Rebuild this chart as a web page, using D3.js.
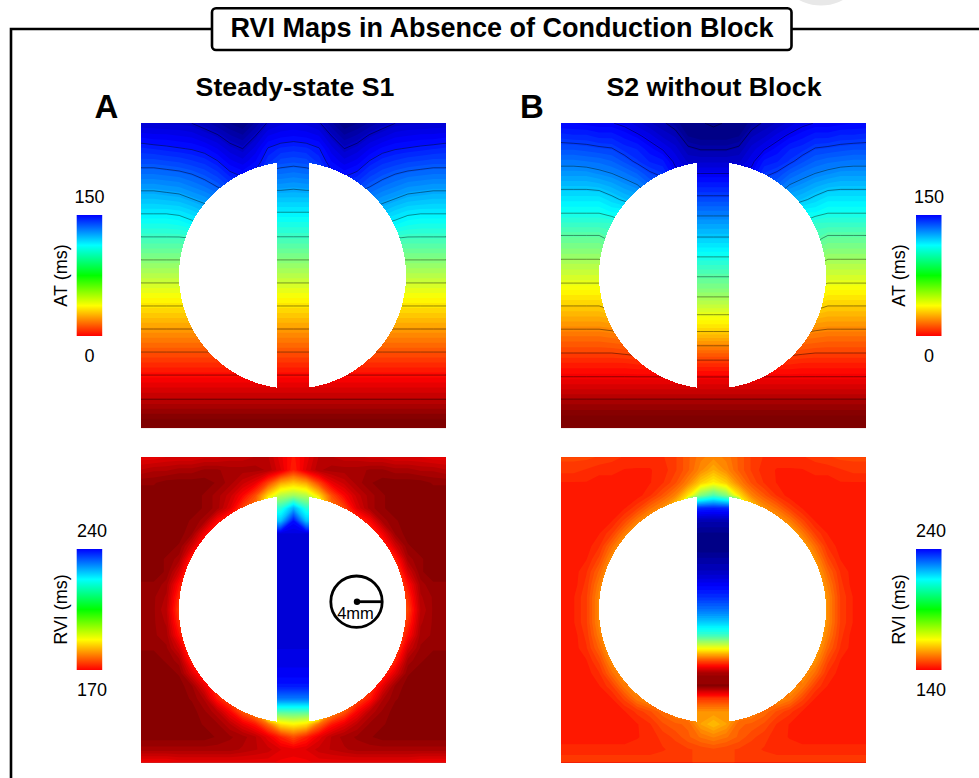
<!DOCTYPE html>
<html>
<head>
<meta charset="utf-8">
<script src="https://cdn.jsdelivr.net/npm/d3@7"></script>
<style>
    html, body { margin: 0; padding: 0; background: #fff; }
    svg { display: block; }
    text { font-family: "Liberation Sans", Arial, sans-serif; fill: #000; }
</style>
</head>
<body>
<svg id="chart" width="979" height="778"></svg>
<script>
// jet map: colour stop position (0 = dark blue end) and its colour
const jetStops = [0, 0.125, 0.375, 0.625, 0.875, 1];
const jetColors = ['#00007f', '#0000ff', '#00ffff', '#ffff00', '#ff0000', '#7f0000'];

// the colour bars use a plain rainbow, low end first
const barColors = ['#ff0000', '#ffff00', '#00ff00', '#00ffff', '#0000ff'];

const atTicks = [0, 150];
const rviTicksA = [170, 240];
const rviTicksB = [140, 240];

// isochrone levels (ms) of the two AT maps
const isoLevelsA = [-13, 1.5, 16, 30.5, 45, 59.5, 74, 88.5, 103, 117.5, 132, 146.5, 161];
const isoLevelsB = [-15.6, -1.6, 12.4, 26.4, 40.4, 54.4, 68.4, 82.4, 96.4, 110.4, 124.4, 138.4, 152.4, 166.4, 180.4];

// maps are left/right symmetric: rows top to bottom, columns left edge to centre (ms)
const atHalfA = [
    [159,159,160,160,161,164,168,172,175,168,160,157,156],
    [151,152,152,153,154,157,160,165,168,161,153,151,150],
    [143,144,145,146,147,149,153,158,161,155,146,143,142],
    [136,136,137,138,140,142,146,152,155,150,142,136,135],
    [128,128,129,130,132,135,139,145,148,145,128,128,127],
    [120,120,121,122,125,128,132,138,140,130,120,120,119],
    [112,112,113,114,117,120,124,125,118,115,111,111,111],
    [104,104,104,105,108,112,115,110,105,104,103,103,103],
    [96,96,96,97,100,102,100,97,96,96,95,95,95],
    [88,88,88,88,89,88,88,88,88,88,88,88,88],
    [80,80,80,80,80,80,80,80,80,80,80,80,80],
    [72,72,72,72,72,72,72,72,72,72,72,72,72],
    [64,64,64,64,64,64,64,64,64,64,64,64,64],
    [56,56,56,56,56,56,56,56,56,56,56,56,56],
    [48,48,48,48,48,48,48,48,48,48,48,48,48],
    [40,40,40,40,40,40,40,40,40,40,40,40,40],
    [32,32,32,32,32,32,32,32,32,32,32,32,32],
    [24,24,24,24,24,24,24,24,24,24,24,24,24],
    [16,16,16,16,16,16,16,16,16,16,16,16,16],
    [8,8,8,8,8,8,8,8,8,8,8,8,8],
    [0,0,0,0,0,0,0,0,0,0,0,0,0],
    [-8,-8,-8,-8,-8,-8,-8,-8,-8,-8,-8,-8,-8],
    [-15,-15,-15,-15,-15,-15,-15,-15,-15,-15,-15,-15,-15],
    [-23,-23,-23,-23,-23,-23,-23,-23,-23,-23,-23,-23,-23],
    [-31,-31,-31,-31,-31,-31,-31,-31,-31,-31,-31,-31,-31]
];

const atHalfB = [
    [150,150,151,152,152,154,158,162,165,170,176,179,183],
    [142,143,143,145,145,148,151,155,160,163,172,174,174],
    [135,135,136,137,138,142,144,149,153,158,165,167,167],
    [127,127,128,129,131,135,140,144,146,154,160,160,160],
    [120,120,120,122,124,127,131,137,140,150,152,152,152],
    [112,112,112,113,116,120,123,130,132,140,144,144,144],
    [104,104,104,104,108,112,115,120,125,130,136,136,136],
    [97,97,97,97,100,100,105,110,115,120,127,127,127],
    [89,89,89,89,89,95,100,105,110,115,118,118,118],
    [81,81,81,81,85,88,92,96,100,105,110,110,110],
    [74,74,74,74,78,82,86,90,94,98,101,101,101],
    [66,66,66,66,70,73,76,80,84,88,92,92,92],
    [59,59,59,59,62,65,68,72,76,80,83,83,83],
    [51,51,51,51,54,57,60,64,68,72,75,75,75],
    [43,43,43,43,46,48,50,53,57,61,65,65,65],
    [36,36,36,36,38,40,42,45,48,52,55,55,55],
    [28,28,28,28,29,31,33,36,39,42,45,45,45],
    [20,20,20,20,21,22,24,26,29,31,33,33,33],
    [13,13,13,13,13,14,15,16,18,19,20,20,20],
    [5,5,5,5,5,5,6,6,7,7,8,8,8],
    [-2,-2,-2,-2,-2,-2,-2,-2,-2,-2,-2,-2,-2],
    [-10,-10,-10,-10,-10,-10,-10,-10,-10,-10,-10,-10,-10],
    [-18,-18,-18,-18,-18,-18,-18,-18,-18,-18,-18,-18,-18],
    [-25,-25,-25,-25,-25,-25,-25,-25,-25,-25,-25,-25,-25],
    [-33,-33,-33,-33,-33,-33,-33,-33,-33,-33,-33,-33,-33]
];

const rviHalfA = [
    [168,168,167,167,167,166,166,165,165,164,164,168,172],
    [164,163,163,162,162,161,161,162,162,162,163,167,173],
    [160,160,159,159,159,159,160,162,165,168,176,185,188],
    [159,159,159,159,159,160,162,165,170,177,190,200,202],
    [159,159,159,159,159,160,162,167,176,182,212,213,224],
    [159,159,159,159,160,162,170,176,190,210,222,222,239],
    [159,159,159,159,161,169,176,185,200,225,243,243,243],
    [159,159,159,160,166,175,185,195,205,220,243,243,243],
    [159,159,160,162,173,180,190,200,210,225,244,244,244],
    [159,159,160,166,178,185,195,205,215,225,244,244,244],
    [160,160,162,171,180,190,200,210,220,230,244,244,244],
    [161,161,163,174,182,190,200,210,220,230,244,244,244],
    [161,161,164,176,184,190,200,210,220,230,244,244,244],
    [161,161,163,174,182,190,200,210,220,230,244,244,244],
    [160,161,162,171,180,190,200,210,220,230,244,244,244],
    [160,160,161,166,178,185,195,205,215,225,243,243,243],
    [159,159,160,162,173,180,190,200,210,225,242,242,242],
    [159,159,159,160,167,175,185,195,205,220,241,241,241],
    [159,159,159,159,161,168,176,185,200,220,238,238,238],
    [159,159,159,159,160,163,172,178,185,195,229,229,229],
    [159,159,159,159,159,161,164,170,178,185,210,210,210],
    [159,159,159,159,159,160,161,164,168,172,180,191,193],
    [159,159,159,159,159,159,160,161,162,164,168,173,177],
    [162,162,162,162,162,162,162,162,163,164,165,167,168],
    [169,169,169,168,168,168,168,168,168,168,168,169,169]
];

const rviHalfB = [
    [149,149,149,148,147,146,145,145,146,148,152,156,158],
    [147,147,146,145,145,144,144,144,145,148,152,158,163],
    [144,144,144,143,143,143,143,144,146,150,157,167,172],
    [143,143,143,143,143,143,143,146,151,157,170,190,197],
    [143,143,143,143,143,144,148,154,159,170,233,235,236],
    [143,143,143,143,144,149,156,162,170,190,248,250,250],
    [143,143,143,144,148,156,165,175,190,210,254,255,255],
    [143,143,143,146,154,163,172,185,200,220,256,257,257],
    [143,143,144,149,159,168,178,190,205,225,252,252,252],
    [143,143,146,153,163,170,180,195,210,225,248,248,248],
    [143,143,147,156,166,175,185,200,215,225,241,241,241],
    [143,144,148,158,168,175,185,195,205,220,234,234,234],
    [143,144,148,158,168,175,185,195,205,215,225,225,225],
    [143,144,148,158,168,175,185,195,205,210,213,213,213],
    [143,143,147,156,166,175,185,190,195,198,199,199,199],
    [143,143,146,153,163,170,172,174,175,175,175,175,175],
    [143,143,144,149,159,160,155,152,151,150,150,150,150],
    [143,143,143,146,154,160,150,140,132,128,128,128,128],
    [143,143,143,144,148,156,160,150,135,128,125,125,125],
    [143,143,143,143,144,149,156,160,155,150,147,147,147],
    [143,143,143,143,143,144,147,150,154,158,159,159,159],
    [143,143,143,143,143,143,144,146,150,152,153,161,165],
    [143,143,143,143,143,143,144,145,147,149,152,155,157],
    [145,145,145,145,145,145,145,145,146,147,148,149,150],
    [148,148,148,148,148,148,148,148,148,148,148,149,149]
];

const svg = d3.select('#chart');
const defs = svg.append('defs');
const panelSize = 305;
const holeRadius = 113.5;
const holeShift = -1;
const isthmusHalf = 16;
const bandCount = 64;

// legend ends sit on the red and blue stops of the jet map
function jetScale (ticks) {
    let [lo, hi] = ticks;
    let valueAt = t => lo + (0.875 - t) / 0.75 * (hi - lo);
    return d3.scaleLinear()
        .domain(jetStops.map(valueAt).reverse())
        .range(jetColors.slice().reverse())
        .clamp(true);
}

function drawMap (name, x, y, half, ticks, isoLevels) {
    let values = half.flatMap(row => row.concat(row.slice(0, -1).reverse()));
    let nx = half[0].length * 2 - 1;
    let ny = half.length;
    let color = jetScale(ticks);
    let [vMin, vMax] = d3.extent(color.domain());
    let step = (vMax - vMin) / bandCount;
    let thresholds = d3.range(bandCount).map(i => vMin + i * step);

    // grid samples sit at half-integers in d3.contours' space
    let xs = d3.scaleLinear().domain([0.5, nx - 0.5]).range([0, panelSize]);
    let ys = d3.scaleLinear().domain([0.5, ny - 0.5]).range([0, panelSize]);
    let path = d3.geoPath(d3.geoTransform({
        point (px, py) { this.stream.point(xs(px), ys(py)); }
    }));
    let contours = d3.contours().size([nx, ny]);

    defs.append('clipPath')
        .attr('id', `clip-${name}`)
        .append('rect')
            .attr('width', panelSize)
            .attr('height', panelSize);

    let g = svg.append('g')
        .attr('transform', `translate(${x}, ${y})`);
    let field = g.append('g')
        .attr('clip-path', `url(#clip-${name})`);

    field.append('rect')
        .attr('width', panelSize)
        .attr('height', panelSize)
        .style('fill', color(vMin));

    field.selectAll('.band')
        .data(contours.thresholds(thresholds)(values))
        .join('path')
            .attr('class', 'band')
            .attr('d', path)
            .style('fill', d => color(d.value + step / 2));

    if (isoLevels) {
        field.selectAll('.iso')
            .data(contours.thresholds(isoLevels)(values))
            .join('path')
                .attr('class', 'iso')
                .attr('d', path)
                .style('fill', 'none')
                .style('stroke', '#000')
                .style('stroke-opacity', 0.6)
                .style('stroke-width', 0.7);
    }

    // hole either side of the isthmus
    let cx = panelSize / 2 + holeShift;
    let cy = panelSize / 2 - 0.5;
    let h = Math.sqrt(holeRadius * holeRadius - isthmusHalf * isthmusHalf);
    let a = Math.atan2(h, isthmusHalf);
    let lobe = (side) => {
        let p = d3.path();
        p.moveTo(cx + side * isthmusHalf, cy - h);
        if (side < 0) p.arc(cx, cy, holeRadius, a - Math.PI, -a - Math.PI, true);
        else p.arc(cx, cy, holeRadius, -a, a, false);
        p.closePath();
        return p.toString();
    };
    g.selectAll('.lobe')
        .data([-1, 1])
        .join('path')
            .attr('class', 'lobe')
            .attr('d', lobe)
            .style('fill', '#fff')
            .style('shape-rendering', 'crispEdges');
    return g;
}

function drawLegend (name, x, y, ticks, label, labelX, textX) {
    let barW = 25.5;
    let barH = 121;
    let yScale = d3.scaleLinear().domain(ticks).range([y + barH, y]);
    let color = d3.scaleLinear()
        .domain(d3.quantize(d3.interpolate(ticks[0], ticks[1]), barColors.length))
        .range(barColors);

    let grad = defs.append('linearGradient')
        .attr('id', `bar-${name}`)
        .attr('x1', 0)
        .attr('y1', 1)
        .attr('x2', 0)
        .attr('y2', 0);
    grad.selectAll('stop')
        .data(color.domain())
        .join('stop')
            .attr('offset', d => (d - ticks[0]) / (ticks[1] - ticks[0]))
            .attr('stop-color', d => color(d));

    svg.append('rect')
        .attr('x', x)
        .attr('y', yScale(ticks[1]))
        .attr('width', barW)
        .attr('height', yScale(ticks[0]) - yScale(ticks[1]))
        .style('fill', `url(#bar-${name})`);

    svg.append('g')
        .selectAll('text')
        .data(ticks)
        .join('text')
            .attr('x', textX)
            .attr('y', (d, i) => i == 0 ? y + barH + 25.5 : y - 12.5)
            .attr('text-anchor', 'middle')
            .style('font-size', '18px')
            .text(d => d);

    svg.append('text')
        .attr('transform', `translate(${labelX}, ${y + barH / 2}) rotate(-90)`)
        .attr('text-anchor', 'middle')
        .style('font-size', '18px')
        .text(label);
}

// faint smudge above the title in the source image
svg.append('circle')
    .attr('cx', 821)
    .attr('cy', -41)
    .attr('r', 46.5)
    .style('fill', '#e8e8e8');

drawMap('atA', 141, 123.3, atHalfA, atTicks, isoLevelsA);
drawMap('atB', 561, 123.3, atHalfB, atTicks, isoLevelsB);
drawMap('rviA', 141, 457.3, rviHalfA, rviTicksA);
drawMap('rviB', 561, 457.3, rviHalfB, rviTicksB);

drawLegend('atA', 76.7, 215, atTicks, 'AT (ms)', 66.5, 89.5);
drawLegend('atB', 916, 215, atTicks, 'AT (ms)', 905, 929);
drawLegend('rviA', 76.7, 549, rviTicksA, 'RVI (ms)', 66.5, 92);
drawLegend('rviB', 916, 549, rviTicksB, 'RVI (ms)', 905, 931);

// frame and title box
svg.append('path')
    .attr('d', 'M212,29H11V780M791,29H979')
    .style('fill', 'none')
    .style('stroke', '#000')
    .style('stroke-width', 2.6);

svg.append('rect')
    .attr('x', 212)
    .attr('y', 8.3)
    .attr('width', 579.5)
    .attr('height', 41.7)
    .attr('rx', 4)
    .style('fill', '#fff')
    .style('stroke', '#000')
    .style('stroke-width', 2.6);

svg.append('text')
    .attr('x', 502)
    .attr('y', 37)
    .attr('text-anchor', 'middle')
    .style('font-size', '27px')
    .style('font-weight', 'bold')
    .text('RVI Maps in Absence of Conduction Block');

let heads = svg.append('g')
    .style('font-weight', 'bold');
heads.append('text').attr('x', 295).attr('y', 96).attr('text-anchor', 'middle')
    .style('font-size', '26.7px').text('Steady-state S1');
heads.append('text').attr('x', 714).attr('y', 96).attr('text-anchor', 'middle')
    .style('font-size', '26.7px').text('S2 without Block');
heads.append('text').attr('x', 106.5).attr('y', 118).attr('text-anchor', 'middle')
    .style('font-size', '33px').text('A');
heads.append('text').attr('x', 532).attr('y', 118).attr('text-anchor', 'middle')
    .style('font-size', '33px').text('B');

// 4 mm scale mark inside the hole of map A
let mark = svg.append('g')
    .attr('transform', 'translate(356.5, 601.7)');
mark.append('circle')
    .attr('r', 25.7)
    .style('fill', 'none')
    .style('stroke', '#000')
    .style('stroke-width', 2.8);
mark.append('line')
    .attr('x1', 0)
    .attr('x2', 25.7)
    .style('stroke', '#000')
    .style('stroke-width', 2.8);
mark.append('circle')
    .attr('cx', 0.5)
    .attr('r', 3.2)
    .style('fill', '#000');
mark.append('text')
    .attr('x', -1)
    .attr('y', 17)
    .attr('text-anchor', 'middle')
    .style('font-size', '16.5px')
    .text('4mm');
</script>
</body>
</html>
